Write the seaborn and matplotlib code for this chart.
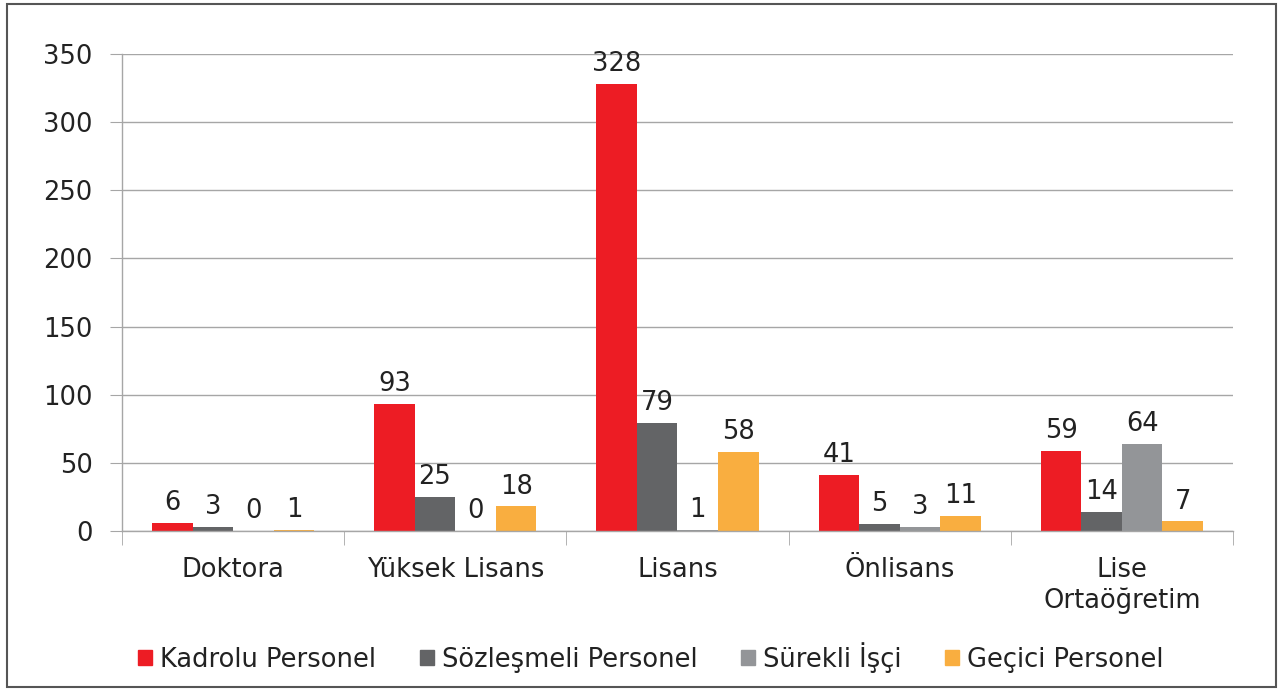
import pandas as pd
import matplotlib.pyplot as plt
import matplotlib.patches as mpatches
import seaborn as sns

# Data
categories = ['Doktora', 'Yüksek Lisans', 'Lisans', 'Önlisans', 'Lise\nOrtaöğretim']
series = ['Kadrolu Personel', 'Sözleşmeli Personel', 'Sürekli İşçi', 'Geçici Personel']
kadrolu = [6, 93, 328, 41, 59]
sozlesmeli = [3, 25, 79, 5, 14]
surekli = [0, 0, 1, 3, 64]
gecici = [1, 18, 58, 11, 7]
colors = ['#ED1C24', '#636466', '#939598', '#F9AE40']


def build_frame():
    # Long format table for seaborn
    rows = []
    for name, values in zip(series, [kadrolu, sozlesmeli, surekli, gecici]):
        for cat, v in zip(categories, values):
            rows.append({'Kategori': cat, 'Seri': name, 'Deger': v})
    return pd.DataFrame(rows)


def main():
    df = build_frame()
    sns.set_style('white')
    plt.rcParams['font.family'] = ['DejaVu Sans']
    fs = 18.5

    fig = plt.figure(figsize=(12.81, 6.89), dpi=100)
    ax = fig.add_axes([0.0952, 0.2293, 0.8673, 0.6923])

    sns.barplot(data=df, x='Kategori', y='Deger', hue='Seri', order=categories,
                hue_order=series, palette=colors, width=0.73, saturation=1,
                linewidth=0, ax=ax, legend=False)

    for container in ax.containers:
        ax.bar_label(container, padding=5, fontsize=fs, color='#222222')

    ax.set_ylim(0, 350)
    ax.set_xlim(-0.5, len(categories) - 0.5)
    ax.set_yticks(range(0, 351, 50))
    ax.set_xlabel('')
    ax.set_ylabel('')
    ax.grid(axis='y', color='#A6A6A6', linewidth=1)
    ax.set_axisbelow(True)

    for side in ['top', 'right']:
        ax.spines[side].set_visible(False)
    for side in ['left', 'bottom']:
        ax.spines[side].set_color('#A6A6A6')
        ax.spines[side].set_linewidth(1)

    # category boundary ticks on x, outward ticks on y
    ax.set_xticks([i - 0.5 for i in range(len(categories) + 1)], minor=True)
    ax.tick_params(axis='x', which='major', length=0, pad=19, labelsize=fs, labelcolor='#222222')
    ax.tick_params(axis='x', which='minor', length=10, color='#A6A6A6', direction='out')
    ax.tick_params(axis='y', length=9, color='#A6A6A6', direction='out', pad=12,
                   labelsize=fs, labelcolor='#222222')
    ax.tick_params(axis='y', left=True)
    ax.tick_params(axis='x', which='minor', bottom=True)

    handles = [mpatches.Patch(color=c, label=s) for c, s in zip(colors, series)]
    fig.legend(handles=handles, loc='center', bbox_to_anchor=(0.508, 0.046), ncol=4,
               frameon=False, fontsize=fs, handlelength=0.55, handleheight=0.55,
               handletextpad=0.3, columnspacing=1.7, labelcolor='#222222')

    # outer frame around the chart
    fig.patches.append(mpatches.Rectangle((0.0055, 0.003), 0.9905, 0.991, fill=False,
                                          edgecolor='#555555', linewidth=1.5,
                                          transform=fig.transFigure, figure=fig))

    fig.savefig('out.png', dpi=100)


if __name__ == '__main__':
    main()
